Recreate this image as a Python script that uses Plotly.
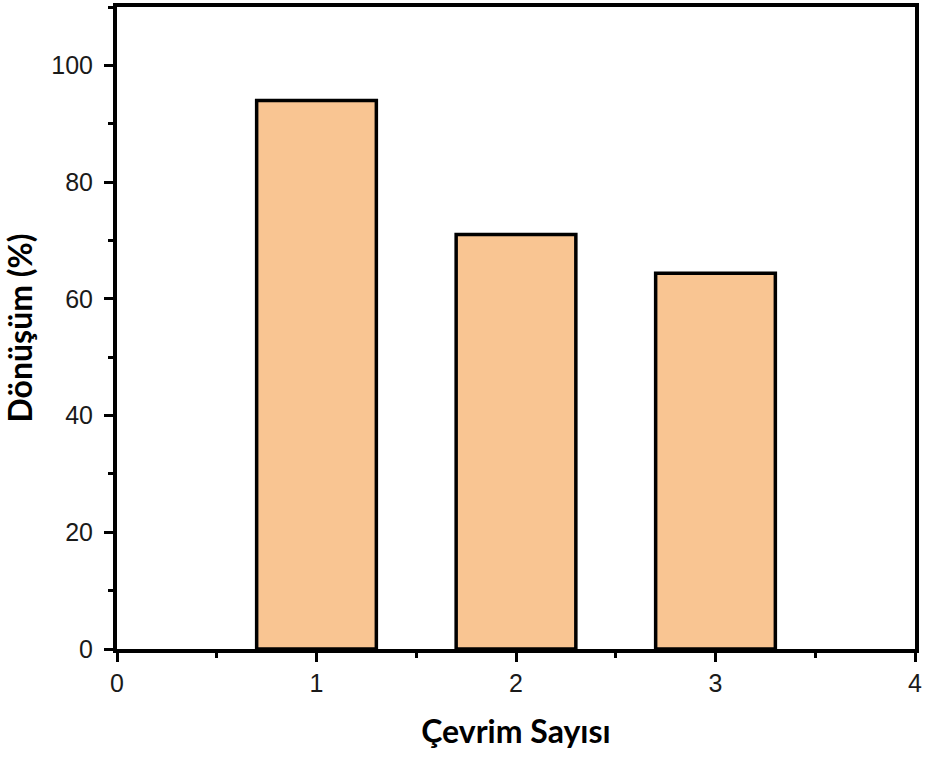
import plotly.graph_objects as go

# Conversion per reuse cycle
cycles = [1, 2, 3]
conversion = [94.0, 71.0, 64.4]

x_ticks = [0, 1, 2, 3, 4]
y_ticks = [0, 20, 40, 60, 80, 100]

fig = go.Figure()
fig.add_trace(go.Bar(
    x=cycles,
    y=conversion,
    width=0.6,
    marker=dict(color="#F9C592", line=dict(color="black", width=3.5)),
    showlegend=False,
))

axis_font = dict(family="Liberation Sans, Arial, sans-serif", size=25, color="#1a1a1a")
title_font = dict(family="Lato, sans-serif", size=32, color="black")

fig.update_layout(
    width=925,
    height=760,
    margin=dict(l=117, r=9, t=3, b=111),
    plot_bgcolor="white",
    paper_bgcolor="white",
    xaxis=dict(
        range=[0, 4],
        tickvals=x_ticks,
        ticktext=[str(v) for v in x_ticks],
        showline=True, linecolor="black", linewidth=4, mirror=True,
        ticks="outside", ticklen=9, tickwidth=3, tickcolor="black",
        minor=dict(ticks="outside", ticklen=5, tickwidth=3, tickcolor="black", dtick=0.5, tick0=0.5),
        showgrid=False, zeroline=False,
        tickfont=axis_font,
        title=dict(text="<b>Çevrim Sayısı</b>", font=title_font, standoff=26),
    ),
    yaxis=dict(
        range=[0, 110],
        tickvals=y_ticks,
        ticktext=[str(v) for v in y_ticks],
        showline=True, linecolor="black", linewidth=4, mirror=True,
        ticks="outside", ticklen=9, tickwidth=3, tickcolor="black",
        minor=dict(ticks="outside", ticklen=5, tickwidth=3, tickcolor="black", dtick=10, tick0=10),
        showgrid=False, zeroline=False,
        tickfont=axis_font,
        ticklabelstandoff=6,
        title=dict(text="<b>Dönüşüm (%)</b>", font=title_font, standoff=15),
    ),
)

fig.write_html("out.html")
